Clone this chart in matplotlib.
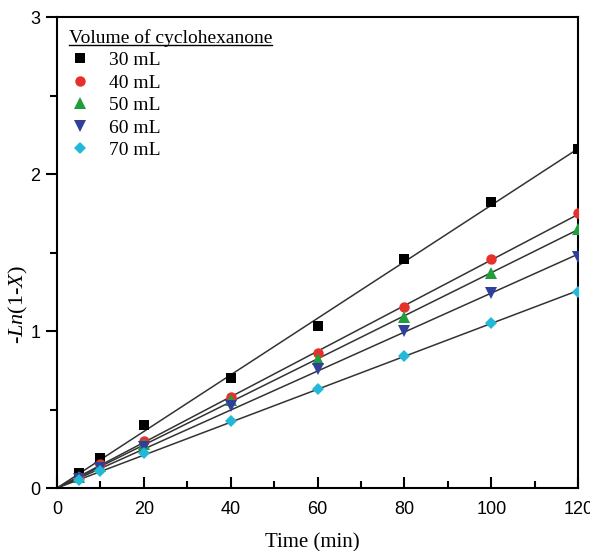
import numpy as np
import matplotlib
matplotlib.use("Agg")
import matplotlib.pyplot as plt
from matplotlib.ticker import MultipleLocator
from matplotlib.lines import Line2D

time = [5, 10, 20, 40, 60, 80, 100, 120]
series_labels = ["30 mL", "40 mL", "50 mL", "60 mL", "70 mL"]
v30 = [0.095, 0.19, 0.40, 0.70, 1.03, 1.46, 1.82, 2.16]
v40 = [0.07, 0.15, 0.30, 0.58, 0.86, 1.15, 1.46, 1.75]
v50 = [0.07, 0.14, 0.28, 0.56, 0.82, 1.09, 1.37, 1.65]
v60 = [0.06, 0.13, 0.26, 0.52, 0.76, 1.00, 1.24, 1.47]
v70 = [0.05, 0.11, 0.22, 0.43, 0.63, 0.84, 1.05, 1.25]
all_series = [v30, v40, v50, v60, v70]

markers = ["s", "o", "^", "v", "D"]
colors = ["#000000", "#e8302a", "#1f9e3c", "#2f3f9a", "#22b9d9"]
msizes = [7, 7.5, 8, 8, 6.5]

plt.rcParams["mathtext.fontset"] = "custom"
plt.rcParams["mathtext.rm"] = "Liberation Serif"
plt.rcParams["mathtext.it"] = "Liberation Serif:italic"

fig = plt.figure(figsize=(5.9, 5.51), dpi=100)
ax = fig.add_axes([0.0966, 0.1143, 0.8834, 0.8547])

t = np.array(time, dtype=float)
xfit = np.array([0.0, 120.0])
handles = []
for vals, m, c, ms, lab in zip(all_series, markers, colors, msizes, series_labels):
    y = np.array(vals)
    k = np.sum(t * y) / np.sum(t * t)
    ax.plot(xfit, k * xfit, color="#333333", lw=1.1, zorder=2)
    h, = ax.plot(time, vals, linestyle="none", marker=m, color=c, ms=ms,
                 markeredgewidth=0, label=lab, zorder=3)
    handles.append(h)

ax.set_xlim(0, 120)
ax.set_ylim(0, 3)
ax.xaxis.set_major_locator(MultipleLocator(20))
ax.xaxis.set_minor_locator(MultipleLocator(10))
ax.yaxis.set_major_locator(MultipleLocator(1))
ax.yaxis.set_minor_locator(MultipleLocator(0.5))
ax.tick_params(axis="x", which="major", direction="in", length=8, width=1.5,
               labelsize=13, pad=9)
ax.tick_params(axis="x", which="minor", direction="in", length=5, width=1.5)
ax.tick_params(axis="y", which="major", direction="out", length=8, width=1.5,
               labelsize=13, pad=4)
ax.tick_params(axis="y", which="minor", direction="out", length=5, width=1.5)
for lab in ax.get_xticklabels() + ax.get_yticklabels():
    lab.set_fontfamily("Liberation Sans")
for sp in ax.spines.values():
    sp.set_linewidth(1.5)

ax.set_xlabel("Time (min)", fontfamily="Liberation Serif", fontsize=15)
ax.xaxis.set_label_coords(0.49, -0.095)
ax.set_ylabel(r"-$\mathit{Ln}$(1-$\mathit{X}$)", fontfamily="Liberation Serif",
              fontsize=16)
ax.yaxis.set_label_coords(-0.052, 0.39)

leg = ax.legend(handles=handles, loc="upper left", frameon=False,
                title="Volume of cyclohexanone",
                prop={"family": "Liberation Serif", "size": 14},
                title_fontsize=14, handletextpad=0.9, labelspacing=0.25,
                borderaxespad=0.2, handlelength=1.2)
leg.get_title().set_fontfamily("Liberation Serif")
leg._legend_box.align = "left"

fig.canvas.draw()
bb = leg.get_title().get_window_extent(fig.canvas.get_renderer())
bbf = bb.transformed(fig.transFigure.inverted())
yline = bbf.y0 + 0.1 * bbf.height
fig.add_artist(Line2D([bbf.x0, bbf.x1], [yline, yline], transform=fig.transFigure,
                      color="black", lw=1.0))

fig.savefig("out.png", dpi=100)
